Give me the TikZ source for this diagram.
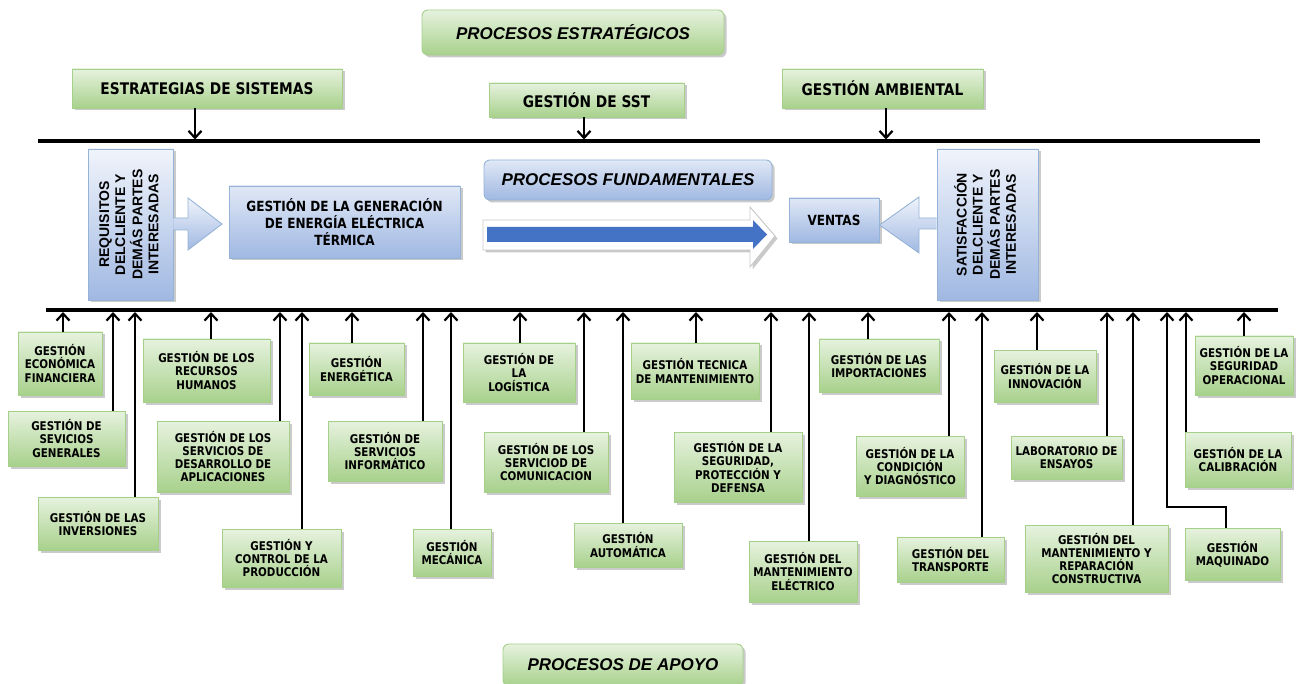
\documentclass[tikz,border=0pt]{standalone}
\usepackage{fontspec}
\usepackage{graphicx}
\newfontfamily\vb{DejaVu Sans}[FakeStretch=0.86]
\newfontfamily\ar{Liberation Sans}
\usetikzlibrary{arrows.meta,shadows,calc}
\definecolor{gborder}{RGB}{165,208,138}
\definecolor{gtop}{RGB}{230,242,222}
\definecolor{gbot}{RGB}{168,209,140}
\definecolor{bborder}{RGB}{149,179,215}
\definecolor{btop}{RGB}{240,244,251}
\definecolor{bbot}{RGB}{160,184,226}
\definecolor{arrowblue}{RGB}{68,114,196}
\definecolor{outl}{RGB}{200,200,200}
\tikzset{
 shad/.style={drop shadow={shadow xshift=2.5pt,shadow yshift=-2.5pt,opacity=0.35,fill=black!60}},
 gbox/.style={draw=gborder, line width=0.9pt, top color=gtop, bottom color=gbot, shad, inner sep=0pt, align=center,
   font=\vb\bfseries\fontsize{12}{13.3}\selectfont},
 topbox/.style={gbox, font=\vb\bfseries\fontsize{16}{18}\selectfont},
 headbox/.style={gbox, rounded corners=6pt, font=\ar\bfseries\itshape\fontsize{17}{19}\selectfont},
 bbox/.style={draw=bborder, line width=0.9pt, top color=btop, bottom color=bbot, shad, inner sep=0pt, align=center},
 conn/.style={line width=2.2pt, -{Straight Barb[length=7pt,width=13pt]}},
 bar/.style={line width=3.5pt},
}
\newcommand\mybox[6]{\node[gbox,minimum width=#2,minimum height=#3] (#1) at (#4,#5) {#6};}
\begin{document}
\begin{tikzpicture}[x=1pt,y=-1pt]
\useasboundingbox (0,0) rectangle (1303,684);
% line coordinates
\coordinate (tl) at (38,141);
\coordinate (tr) at (1260,141);
\coordinate (bl) at (46,310);
\coordinate (br) at (1278,310);
\coordinate (ba) at (0,312);
\coordinate (ta) at (0,139.5);

% top boxes
\node[headbox, minimum width=302, minimum height=45] (pe) at (573,32.5) {PROCESOS ESTRATÉGICOS};
\node[topbox, minimum width=270, minimum height=39] (es) at (207,88.5) {ESTRATEGIAS DE SISTEMAS};
\node[topbox, minimum width=195, minimum height=34] (sst) at (586.5,100) {GESTIÓN DE SST};
\node[topbox, minimum width=201, minimum height=39] (ga) at (882.5,88.5) {GESTIÓN AMBIENTAL};
\draw[conn] (195,0 |- es.south) -- (195,0 |- ta);
\draw[conn] (584,0 |- sst.south) -- (584,0 |- ta);
\draw[conn] (886,0 |- ga.south) -- (886,0 |- ta);
\draw[bar] (tl) -- (tr);

% middle
\node[bbox, minimum width=85, minimum height=151] (req) at (130.5,224.5)
  {\rotatebox{90}{\ar\bfseries\fontsize{14}{16}\selectfont\begin{tabular}{@{}c@{}}REQUISITOS\\DELCLIENTE Y\\DEMÁS PARTES\\INTERESADAS\end{tabular}}};
\node[bbox, minimum width=101, minimum height=151] (sat) at (987.5,224.5)
  {\rotatebox{90}{\ar\bfseries\fontsize{14}{16}\selectfont\begin{tabular}{@{}c@{}}SATISFACCIÓN\\DELCLIENTE Y\\DEMÁS PARTES\\INTERESADAS\end{tabular}}};
\node[bbox, top color=btop!80!bbot, minimum width=231, minimum height=72, font=\vb\bfseries\fontsize{14}{17}\selectfont] (gen) at (344.5,222)
  {GESTIÓN DE LA GENERACIÓN\\DE ENERGÍA ELÉCTRICA\\TÉRMICA};
\node[bbox, rounded corners=6pt, top color=btop!80!bbot, minimum width=288, minimum height=40, font=\ar\bfseries\itshape\fontsize{17}{19}\selectfont] (pf) at (628,180) {PROCESOS FUNDAMENTALES};
\node[bbox, top color=btop!80!bbot, minimum width=90, minimum height=44, font=\vb\bfseries\fontsize{14}{17}\selectfont] (ven) at (834,220) {VENTAS};

% block arrows
\draw[draw=bborder, line width=0.9pt, top color=btop, bottom color=bbot]
  (req.east |- 0,218) -- (188,218) -- (188,198) -- (222,224) -- (188,250) -- (188,230) -- (req.east |- 0,230);
\draw[draw=bborder, line width=0.9pt, top color=btop, bottom color=bbot]
  (sat.west |- 0,218) -- (919,218) -- (919,197) -- (ven.east |- 0,225) -- (919,253) -- (919,229) -- (sat.west |- 0,229);

% big arrow
\draw[draw=outl, line width=0.9pt, fill=white, shad]
  (483,220) -- (750,220) -- (750,207) -- (775,236) -- (750,267) -- (750,250) -- (483,250) -- cycle;
\fill[arrowblue] (487,227) -- (753,227) -- (753,220) -- (767,234.5) -- (753,249) -- (753,242) -- (487,242) -- cycle;

% bottom boxes
\mybox{b1}{84}{63}{60}{363.5}{GESTIÓN\\ECONÓMICA\\FINANCIERA}
\mybox{b2}{117}{55}{66.5}{438.5}{GESTIÓN DE\\SEVICIOS\\GENERALES}
\mybox{b3}{120}{53}{98}{523.5}{GESTIÓN DE LAS\\INVERSIONES}
\mybox{b4}{127}{63}{206.5}{370.5}{GESTIÓN DE LOS\\RECURSOS\\HUMANOS}
\mybox{b5}{132}{71}{223}{456.5}{GESTIÓN DE LOS\\SERVICIOS DE\\DESARROLLO DE\\APLICACIONES}
\mybox{b6}{119}{58}{281.5}{558}{GESTIÓN Y\\CONTROL DE LA\\PRODUCCIÓN}
\mybox{b7}{95}{52}{356.5}{369}{GESTIÓN\\ENERGÉTICA}
\mybox{b8}{114}{60}{385}{451}{GESTIÓN DE\\SERVICIOS\\INFORMÁTICO}
\mybox{b9}{78}{47}{452}{552.5}{GESTIÓN\\MECÁNICA}
\mybox{b10}{112}{59}{519}{372.5}{GESTIÓN DE\\LA\\LOGÍSTICA}
\mybox{b11}{124}{60}{546}{462}{GESTIÓN DE LOS\\SERVICIOD DE\\COMUNICACION}
\mybox{b12}{108}{44}{628}{545}{GESTIÓN\\AUTOMÁTICA}
\mybox{b13}{128}{56}{695}{371}{GESTIÓN TECNICA\\DE MANTENIMIENTO}
\mybox{b14}{128}{70}{738}{467}{GESTIÓN DE LA\\SEGURIDAD,\\PROTECCIÓN Y\\DEFENSA}
\mybox{b15}{108}{61}{803}{571.5}{GESTIÓN DEL\\MANTENIMIENTO\\ELÉCTRICO}
\mybox{b16}{120}{53}{879}{365.5}{GESTIÓN DE LAS\\IMPORTACIONES}
\mybox{b17}{108}{60}{910}{466}{GESTIÓN DE LA\\CONDICIÓN\\Y DIAGNÓSTICO}
\mybox{b18}{107}{45}{950.5}{559.5}{GESTIÓN DEL\\TRANSPORTE}
\mybox{b19}{102}{52}{1045}{376}{GESTIÓN DE LA\\INNOVACIÓN}
\mybox{b20}{111}{43}{1066.5}{457.5}{LABORATORIO DE\\ENSAYOS}
\mybox{b21}{143}{67}{1096.5}{558.5}{GESTIÓN DEL\\MANTENIMIENTO Y\\REPARACIÓN\\CONSTRUCTIVA}
\mybox{b22}{98}{59}{1244}{365.5}{GESTIÓN DE LA\\SEGURIDAD\\OPERACIONAL}
\mybox{b23}{106}{55}{1238}{459.5}{GESTIÓN DE LA\\CALIBRACIÓN}
\mybox{b24}{95}{52}{1232.5}{554}{GESTIÓN\\MAQUINADO}

\node[headbox, minimum width=240, minimum height=42] (pa) at (623,665) {PROCESOS DE APOYO};

% connectors to bottom bar
\draw[conn] (63,0 |- b1.north) -- (63,0 |- ba);
\draw[conn] (113,0 |- b2.north) -- (113,0 |- ba);
\draw[conn] (135,0 |- b3.north) -- (135,0 |- ba);
\draw[conn] (211,0 |- b4.north) -- (211,0 |- ba);
\draw[conn] (280,0 |- b5.north) -- (280,0 |- ba);
\draw[conn] (302,0 |- b6.north) -- (302,0 |- ba);
\draw[conn] (352,0 |- b7.north) -- (352,0 |- ba);
\draw[conn] (423,0 |- b8.north) -- (423,0 |- ba);
\draw[conn] (451,0 |- b9.north) -- (451,0 |- ba);
\draw[conn] (520,0 |- b10.north) -- (520,0 |- ba);
\draw[conn] (584,0 |- b11.north) -- (584,0 |- ba);
\draw[conn] (623,0 |- b12.north) -- (623,0 |- ba);
\draw[conn] (696,0 |- b13.north) -- (696,0 |- ba);
\draw[conn] (771,0 |- b14.north) -- (771,0 |- ba);
\draw[conn] (809,0 |- b15.north) -- (809,0 |- ba);
\draw[conn] (868,0 |- b16.north) -- (868,0 |- ba);
\draw[conn] (949,0 |- b17.north) -- (949,0 |- ba);
\draw[conn] (982,0 |- b18.north) -- (982,0 |- ba);
\draw[conn] (1037,0 |- b19.north) -- (1037,0 |- ba);
\draw[conn] (1107,0 |- b20.north) -- (1107,0 |- ba);
\draw[conn] (1133,0 |- b21.north) -- (1133,0 |- ba);
\draw[conn] (1244,0 |- b22.north) -- (1244,0 |- ba);
\draw[conn] (1186,0 |- b23.north) -- (1186,0 |- ba);
\coordinate (mq) at (1167,507);
\draw[conn] (1226,0 |- b24.north) -- (1226,0 |- mq) -- (mq) -- (mq |- ba);
\draw[bar] (bl) -- (br);
\end{tikzpicture}
\end{document}
